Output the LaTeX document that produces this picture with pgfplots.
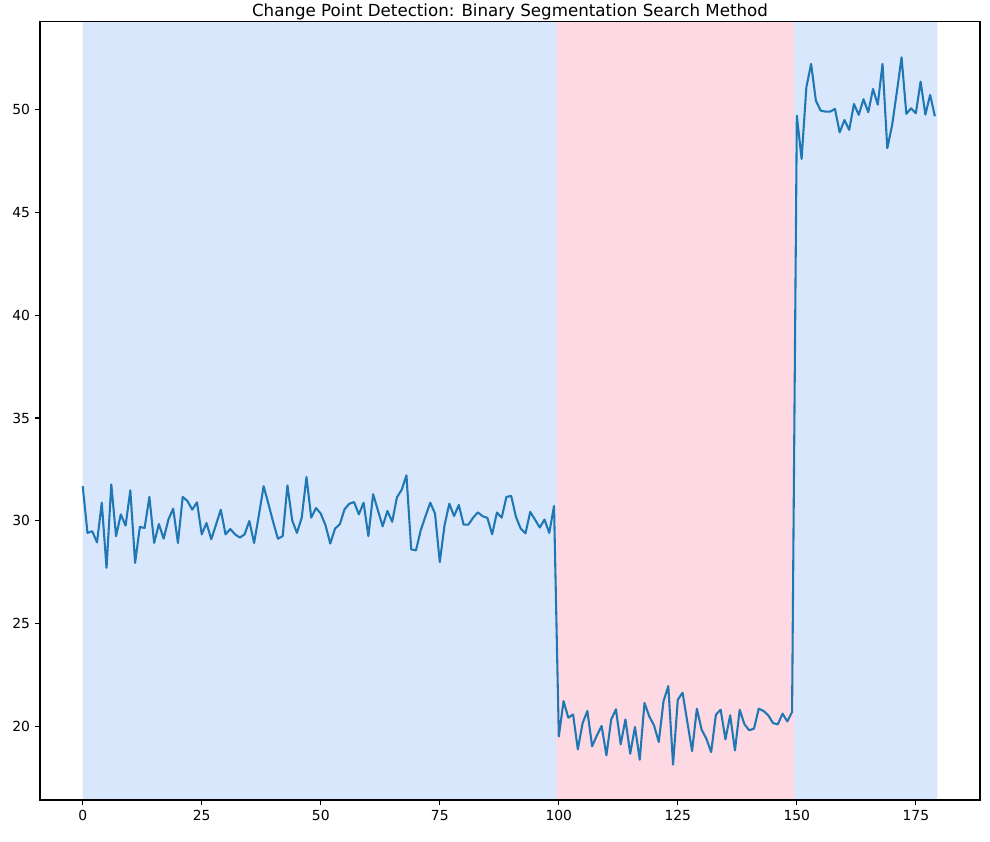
\documentclass[border=0pt]{standalone}
\usepackage{fontspec}
\setmainfont{DejaVu Sans}
\usepackage{pgfplots}
\pgfplotsset{compat=1.18}
\definecolor{mplblue}{RGB}{31,119,180}
\definecolor{spanblue}{RGB}{217,231,253}
\definecolor{spanpink}{RGB}{253,217,227}
\begin{document}
\begin{tikzpicture}
\useasboundingbox (-28.8pt,-30.2pt) rectangle (684pt,576pt);
\begin{axis}[
  at={(0,0)}, anchor=south west,
  scale only axis, width=676.8pt, height=560.2pt,
  xmin=-8.975, xmax=188.475, ymin=16.42, ymax=54.26,
  xtick={0,25,...,175}, ytick={20,25,...,50},
  tick align=outside, major tick length=3.5pt,
  tick style={black, line width=0.8pt},
  every axis/.append style={line width=0.8pt},
  axis line style={line width=0.8pt},
  tick pos=left,
  /pgf/number format/assume math mode=true,
  ticklabel style={font=\fontsize{10}{12}\selectfont},
  title={Change Point Detection: Binary Segmentation Search Method},
  title style={at={(0.5,1)}, anchor=base, yshift=-2pt, font=\fontsize{12}{14}\selectfont},
  axis on top,
]
\addplot[draw=none, fill=spanblue] coordinates {(0,10) (99.55,10) (99.55,60) (0,60)} \closedcycle;
\addplot[draw=none, fill=spanpink] coordinates {(99.5,10) (149.55,10) (149.55,60) (99.5,60)} \closedcycle;
\addplot[draw=none, fill=spanblue] coordinates {(149.5,10) (179.5,10) (179.5,60) (149.5,60)} \closedcycle;
\addplot[mplblue, line width=1.5pt, line join=round] table {
x y
0 31.68
1 29.41
2 29.49
3 28.95
4 30.88
5 27.71
6 31.77
7 29.25
8 30.31
9 29.76
10 31.48
11 27.95
12 29.70
13 29.65
14 31.16
15 28.92
16 29.84
17 29.13
18 30.06
19 30.59
20 28.92
21 31.16
22 30.96
23 30.54
24 30.90
25 29.34
26 29.89
27 29.10
28 29.81
29 30.54
30 29.34
31 29.60
32 29.34
33 29.18
34 29.34
35 29.99
36 28.92
37 30.27
38 31.68
39 30.83
40 29.94
41 29.13
42 29.25
43 31.72
44 30.02
45 29.41
46 30.15
47 32.13
48 30.15
49 30.62
50 30.35
51 29.78
52 28.89
53 29.62
54 29.83
55 30.56
56 30.83
57 30.91
58 30.31
59 30.88
60 29.25
61 31.29
62 30.51
63 29.73
64 30.48
65 29.95
66 31.14
67 31.51
68 32.21
69 28.61
70 28.56
71 29.54
72 30.22
73 30.88
74 30.35
75 27.99
76 29.78
77 30.83
78 30.23
79 30.77
80 29.81
81 29.81
82 30.15
83 30.41
84 30.22
85 30.14
86 29.34
87 30.40
88 30.15
89 31.16
90 31.21
91 30.19
92 29.62
93 29.39
94 30.43
95 30.06
96 29.67
97 30.06
98 29.41
99 30.72
100 19.51
101 21.23
102 20.42
103 20.58
104 18.88
105 20.16
106 20.75
107 19.03
108 19.56
109 20.02
110 18.59
111 20.33
112 20.83
113 19.13
114 20.34
115 18.67
116 19.97
117 18.38
118 21.14
119 20.49
120 20.05
121 19.24
122 21.23
123 21.96
124 18.14
125 21.30
126 21.64
127 20.21
128 18.80
129 20.86
130 19.84
131 19.40
132 18.75
133 20.57
134 20.81
135 19.37
136 20.54
137 18.83
138 20.81
139 20.10
140 19.81
141 19.89
142 20.86
143 20.75
144 20.54
145 20.16
146 20.10
147 20.62
148 20.24
149 20.70
150 49.70
151 47.60
152 51.08
153 52.22
154 50.43
155 49.95
156 49.90
157 49.90
158 50.03
159 48.89
160 49.49
161 49.01
162 50.27
163 49.74
164 50.50
165 49.87
166 51.00
167 50.24
168 52.22
169 48.12
170 49.22
171 50.84
172 52.54
173 49.79
174 50.06
175 49.82
176 51.36
177 49.75
178 50.71
179 49.67
};
\end{axis}
\end{tikzpicture}
\end{document}
